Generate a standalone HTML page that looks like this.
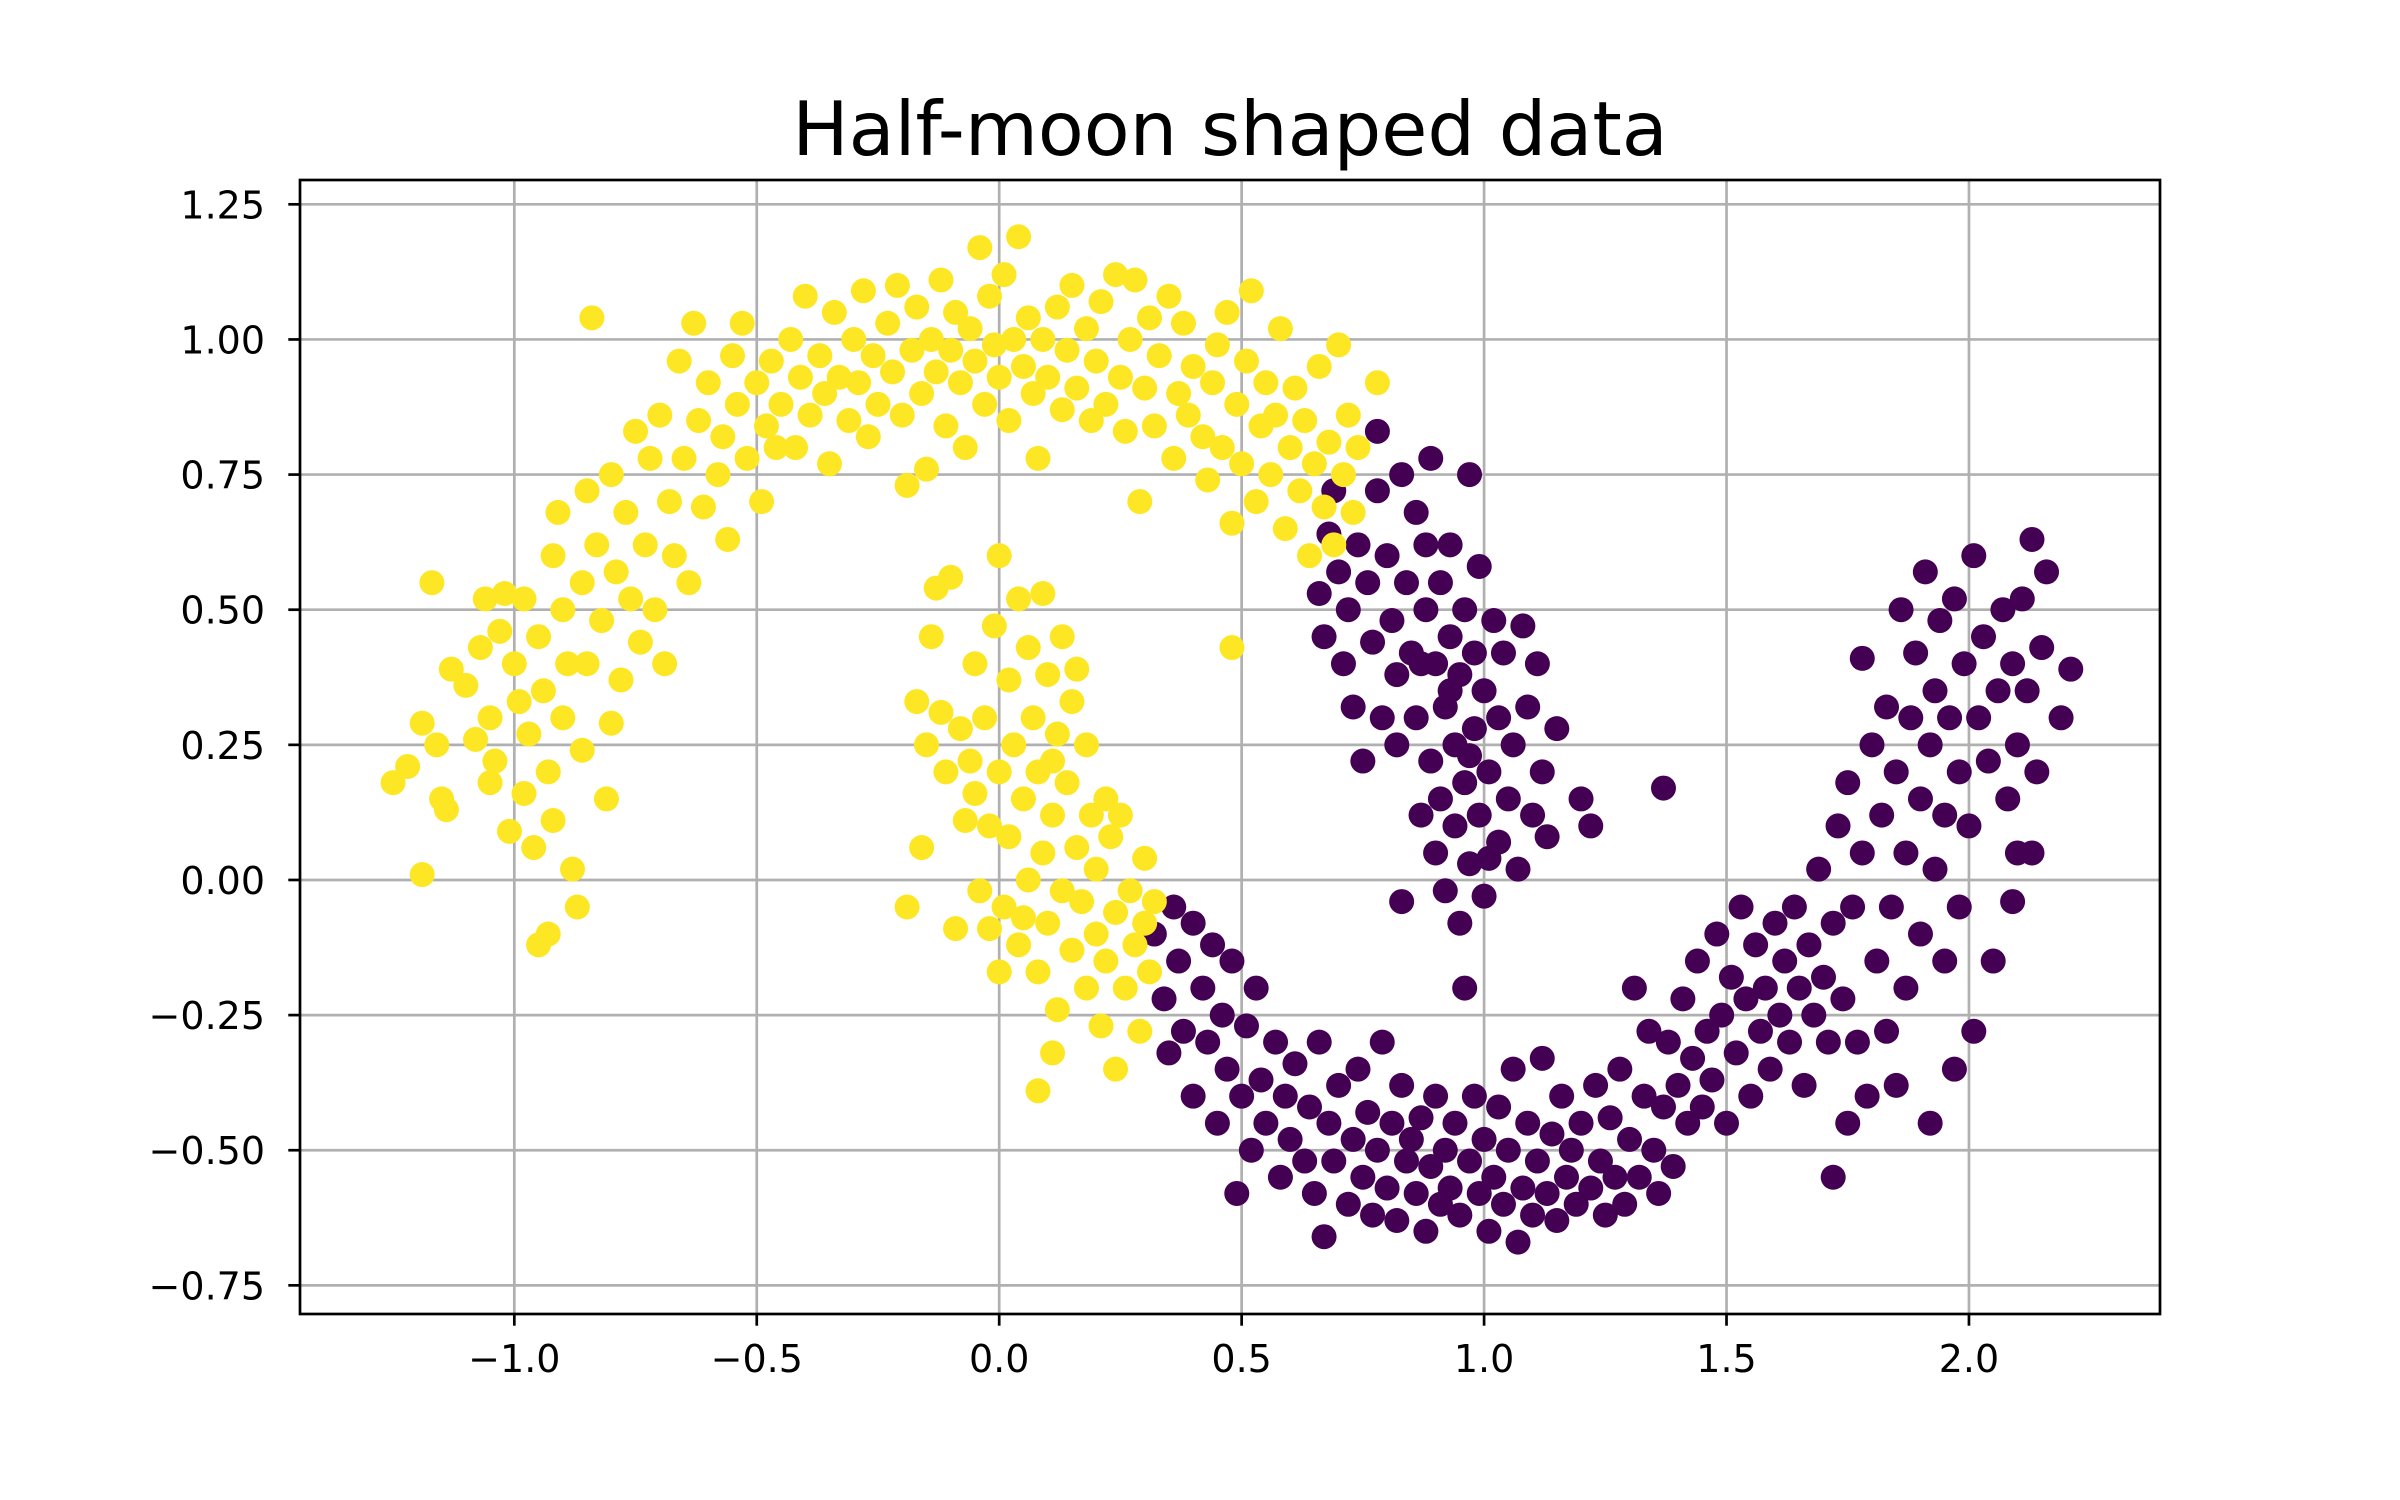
<!DOCTYPE html>
<html><head><meta charset="utf-8"><style>
html,body{margin:0;padding:0;background:#fff}
svg{display:block}
text{font-family:"DejaVu Sans","Liberation Sans",sans-serif;fill:#000}
</style></head><body>
<svg id="chart" width="2400" height="1500" viewBox="0 0 2400 1500" xmlns="http://www.w3.org/2000/svg">
<rect width="2400" height="1500" fill="#fff"/>
<text x="1230" y="155" font-size="75" text-anchor="middle">Half-moon shaped data</text>
<g id="grid"></g>
<g id="pts"></g>
<g id="axes"></g>
</svg>
<script>
const xTicks = [-1.0,-0.5,0.0,0.5,1.0,1.5,2.0];
const xTickLabels = ["−1.0","−0.5","0.0","0.5","1.0","1.5","2.0"];
const yTicks = [-0.75,-0.5,-0.25,0,0.25,0.5,0.75,1.0,1.25];
const yTickLabels = ["−0.75","−0.50","−0.25","0.00","0.25","0.50","0.75","1.00","1.25"];
const yellowX = [-1.25,-1.22,-1.19,-1.19,-1.16,-1.15,-1.14,-1.17,-1.13,-1.1,-1.08,-1.07,-1.06,-1.05,-1.05,-1.04,-1.03,-1.02,-1.01,-1.0,-0.99,-0.98,-0.98,-0.97,-0.96,-0.95,-0.95,-0.93,-0.94,-0.93,-0.92,-0.92,-0.91,-0.9,-0.9,-0.89,-0.88,-0.87,-0.86,-0.86,-0.85,-0.85,-0.84,-0.83,-0.82,-0.81,-0.8,-0.8,-0.79,-0.78,-0.77,-0.76,-0.75,-0.74,-0.73,-0.72,-0.71,-0.7,-0.69,-0.68,-0.67,-0.66,-0.65,-0.64,-0.63,-0.62,-0.61,-0.6,-0.58,-0.57,-0.56,-0.55,-0.54,-0.53,-0.52,-0.5,-0.49,-0.48,-0.47,-0.46,-0.45,-0.43,-0.42,-0.41,-0.4,-0.39,-0.37,-0.36,-0.35,-0.34,-0.33,-0.31,-0.3,-0.29,-0.28,-0.27,-0.26,-0.25,-0.23,-0.22,-0.21,-0.2,-0.19,-0.18,-0.17,-0.16,-0.15,-0.14,-0.13,-0.12,-0.11,-0.1,-0.09,-0.08,-0.07,-0.06,-0.05,-0.04,-0.03,-0.02,-0.01,0.0,0.01,0.02,0.03,0.04,0.05,0.06,0.07,0.08,0.09,0.1,0.12,0.13,0.14,0.15,0.16,0.18,0.19,0.2,0.21,0.22,0.24,0.25,0.26,0.27,0.28,0.29,0.3,0.31,0.32,0.33,0.35,0.36,0.37,0.38,0.39,0.4,0.42,0.43,0.44,0.45,0.46,0.47,0.48,0.48,0.49,0.5,0.51,0.52,0.53,0.54,0.55,0.56,0.57,0.58,0.59,0.6,0.61,0.62,0.63,0.64,0.65,0.66,0.67,0.68,0.69,0.7,0.71,0.72,0.73,0.74,0.78,
-0.19,-0.17,-0.16,-0.15,-0.14,-0.13,-0.12,-0.11,-0.1,-0.09,-0.08,-0.07,-0.06,-0.05,-0.05,-0.04,-0.03,-0.02,-0.01,0.0,0.0,0.01,0.02,0.02,0.03,0.04,0.04,0.05,0.06,0.06,0.07,0.08,0.08,0.09,0.09,0.1,0.1,0.11,0.12,0.12,0.13,0.13,0.14,0.15,0.15,0.16,0.17,0.18,0.18,0.19,0.2,0.2,0.21,0.22,0.22,0.23,0.24,0.24,0.25,0.26,0.27,0.28,0.29,0.3,0.3,0.31,0.32,0.08,0.11,0.05,0.0,-0.02,0.11,0.16];
const yellowY = [0.18,0.21,0.29,0.01,0.25,0.15,0.13,0.55,0.39,0.36,0.26,0.43,0.52,0.3,0.18,0.22,0.46,0.53,0.09,0.4,0.33,0.52,0.16,0.27,0.06,0.45,-0.12,-0.1,0.35,0.2,0.6,0.11,0.68,0.5,0.3,0.4,0.02,-0.05,0.55,0.24,0.72,0.4,1.04,0.62,0.48,0.15,0.75,0.29,0.57,0.37,0.68,0.52,0.83,0.44,0.62,0.78,0.5,0.86,0.4,0.7,0.6,0.96,0.78,0.55,1.03,0.85,0.69,0.92,0.75,0.82,0.63,0.97,0.88,1.03,0.78,0.92,0.7,0.84,0.96,0.8,0.88,1.0,0.8,0.93,1.08,0.86,0.97,0.9,0.77,1.05,0.93,0.85,1.0,0.92,1.09,0.82,0.97,0.88,1.03,0.94,1.1,0.86,0.73,0.98,1.06,0.9,0.76,1.0,0.94,1.11,0.84,0.98,1.05,0.92,0.8,1.02,0.96,1.17,0.88,1.08,0.99,0.93,1.12,0.85,1.0,1.19,0.95,1.04,0.9,0.78,1.0,0.93,1.06,0.87,0.98,1.1,0.91,1.02,0.85,0.96,1.07,0.88,1.12,0.93,0.83,1.0,1.11,0.7,0.91,1.04,0.84,0.97,1.08,0.78,0.9,1.03,0.86,0.95,0.82,0.74,0.92,0.99,0.8,1.05,0.66,0.43,0.88,0.77,0.96,1.09,0.7,0.84,0.92,0.75,0.86,1.02,0.65,0.8,0.91,0.72,0.85,0.6,0.77,0.95,0.69,0.81,0.62,0.99,0.75,0.86,0.68,0.8,0.92,
-0.05,0.33,0.06,0.25,0.45,0.54,0.31,0.2,0.56,-0.09,0.28,0.11,0.22,0.4,0.16,-0.02,0.3,0.1,0.47,0.6,0.2,-0.05,0.37,0.08,0.25,0.52,-0.12,0.15,0.43,0.0,0.3,0.2,-0.17,0.53,0.05,0.38,-0.08,0.12,0.27,-0.24,0.45,-0.02,0.18,-0.13,0.33,0.06,-0.04,0.25,-0.2,0.12,-0.1,0.02,-0.27,0.15,-0.15,0.08,-0.06,-0.35,0.12,-0.2,-0.02,-0.12,-0.28,0.04,-0.08,-0.17,-0.04,-0.39,-0.32,-0.07,-0.17,-0.09,0.22,0.39];
const purpleX = [0.66,0.67,0.68,0.69,0.7,0.71,0.72,0.73,0.74,0.75,0.76,0.77,0.78,0.78,0.79,0.8,0.81,0.82,0.82,0.83,0.83,0.84,0.85,0.86,0.86,0.87,0.88,0.88,0.89,0.89,0.9,0.9,0.91,0.91,0.92,0.92,0.93,0.93,0.94,0.94,0.95,0.95,0.96,0.96,0.97,0.97,0.98,0.98,0.99,0.99,1.0,1.0,1.01,1.02,1.03,1.03,1.04,1.05,1.06,1.07,1.08,1.09,1.1,1.11,1.12,1.13,1.15,1.2,1.22,1.37,0.87,0.93,1.01,0.97,
0.32,0.34,0.35,0.36,0.37,0.38,0.4,0.4,0.42,0.43,0.44,0.45,0.46,0.47,0.48,0.49,0.5,0.51,0.52,0.53,0.54,0.55,0.57,0.58,0.59,0.6,0.61,0.63,0.64,0.65,0.66,0.67,0.68,0.69,0.7,0.72,0.73,0.74,0.75,0.76,0.77,0.78,0.79,0.8,0.81,0.82,0.83,0.84,0.85,0.86,0.87,0.88,0.89,0.9,0.91,0.92,0.93,0.94,0.95,0.96,0.97,0.98,0.99,1.0,1.01,1.02,1.03,1.04,1.05,1.06,1.07,1.08,1.09,1.1,1.11,1.12,1.13,1.14,1.15,1.16,1.17,1.18,1.19,1.2,1.22,1.23,1.24,1.25,1.26,1.27,1.28,1.29,1.3,1.31,1.32,1.33,1.34,1.35,1.36,1.37,1.38,1.39,1.4,1.41,1.42,1.43,1.44,1.45,1.46,1.47,1.48,1.49,1.5,1.51,1.52,1.53,1.54,1.55,1.56,1.57,1.58,1.59,1.6,1.61,1.62,1.63,1.64,1.65,1.66,1.67,1.68,1.69,1.7,1.71,1.72,1.72,1.73,1.74,1.75,1.76,1.77,1.78,1.78,1.79,1.8,1.81,1.82,1.83,1.84,1.85,1.85,1.86,1.87,1.87,1.88,1.89,1.9,1.9,1.91,1.92,1.93,1.93,1.94,1.95,1.95,1.96,1.97,1.98,1.98,1.99,2.0,2.01,2.01,2.02,2.03,2.04,2.05,2.06,2.07,2.08,2.09,2.1,2.1,2.11,2.12,2.13,2.14,2.15,2.16,2.19,2.21,2.13,2.09,1.97,1.92,1.83,1.75];
const purpleY = [0.53,0.45,0.64,0.72,0.57,0.4,0.5,0.32,0.62,0.22,0.55,0.44,0.72,0.83,0.3,0.6,0.48,0.25,0.38,0.75,-0.04,0.55,0.42,0.68,0.3,0.12,0.5,0.62,0.22,0.78,0.4,0.05,0.55,0.15,0.32,-0.02,0.62,0.45,0.25,0.1,0.38,-0.08,0.5,0.18,0.03,0.75,0.42,0.28,0.12,0.58,0.35,-0.03,0.2,0.48,0.07,0.3,0.42,0.15,0.25,0.02,0.47,0.32,0.12,0.4,0.2,0.08,0.28,0.15,0.1,0.17,0.4,0.35,0.04,0.23,
-0.1,-0.22,-0.32,-0.05,-0.15,-0.28,-0.4,-0.08,-0.2,-0.3,-0.12,-0.45,-0.25,-0.35,-0.15,-0.58,-0.4,-0.27,-0.5,-0.2,-0.37,-0.45,-0.3,-0.55,-0.4,-0.48,-0.34,-0.52,-0.42,-0.58,-0.3,-0.66,-0.45,-0.52,-0.38,-0.6,-0.48,-0.35,-0.55,-0.43,-0.62,-0.5,-0.3,-0.57,-0.45,-0.63,-0.38,-0.52,-0.48,-0.58,-0.44,-0.65,-0.53,-0.4,-0.6,-0.5,-0.57,-0.45,-0.62,-0.2,-0.52,-0.4,-0.58,-0.48,-0.65,-0.55,-0.42,-0.6,-0.5,-0.35,-0.67,-0.57,-0.45,-0.62,-0.52,-0.33,-0.58,-0.47,-0.63,-0.4,-0.55,-0.5,-0.6,-0.45,-0.57,-0.38,-0.52,-0.62,-0.44,-0.55,-0.35,-0.6,-0.48,-0.2,-0.55,-0.4,-0.28,-0.5,-0.58,-0.42,-0.3,-0.53,-0.38,-0.22,-0.45,-0.33,-0.15,-0.42,-0.28,-0.37,-0.1,-0.25,-0.45,-0.18,-0.32,-0.05,-0.22,-0.4,-0.12,-0.28,-0.2,-0.35,-0.08,-0.25,-0.15,-0.3,-0.05,-0.2,-0.38,-0.12,-0.25,0.02,-0.18,-0.3,-0.55,-0.08,0.1,-0.22,0.18,-0.05,-0.3,0.05,0.41,-0.4,0.25,-0.15,0.12,0.32,-0.05,-0.38,0.2,0.5,0.05,-0.2,0.3,0.42,0.15,-0.1,0.57,0.25,0.02,0.35,0.48,-0.15,0.12,0.3,0.52,0.2,-0.05,0.4,0.1,0.6,-0.28,0.3,0.45,0.22,-0.15,0.35,0.5,0.15,0.4,0.25,0.05,0.52,0.35,0.63,0.2,0.43,0.57,0.3,0.39,0.05,-0.04,-0.35,-0.45,-0.28,-0.45];

const L=300,R=2160,T=180,B=1314;
const xMin=-1.442,xMax=2.394,yMin=-0.803,yMax=1.295;
function sx(v){return L+(v-xMin)/(xMax-xMin)*(R-L);}
function sy(v){return B-(v-yMin)/(yMax-yMin)*(B-T);}
const NS="http://www.w3.org/2000/svg";
function mk(tag,attrs,parent){const e=document.createElementNS(NS,tag);for(const k in attrs)e.setAttribute(k,attrs[k]);parent.appendChild(e);return e;}
const grid=document.getElementById('grid'),pts=document.getElementById('pts'),axes=document.getElementById('axes');
xTicks.forEach((v,i)=>{
  const g=mk('line',{x1:sx(v),x2:sx(v),y1:T,y2:B,stroke:'#b0b0b0','stroke-width':2.7},grid);
  
  
  const t=mk('line',{x1:sx(v),x2:sx(v),y1:B,y2:B+11.7,stroke:'#000','stroke-width':2.7},axes);
  
  
  const lb=mk('text',{x:sx(v),y:B+58,'font-size':38,'text-anchor':'middle'},axes);
  lb.textContent=xTickLabels[i];
  
  
});
yTicks.forEach((v,i)=>{
  const g=mk('line',{x1:L,x2:R,y1:sy(v),y2:sy(v),stroke:'#b0b0b0','stroke-width':2.7},grid);
  
  
  const t=mk('line',{x1:L-11.7,x2:L,y1:sy(v),y2:sy(v),stroke:'#000','stroke-width':2.7},axes);
  
  
  const lb=mk('text',{x:L-35,y:sy(v)+14,'font-size':38,'text-anchor':'end'},axes);
  lb.textContent=yTickLabels[i];
  
  
});
function drawSeries(xs,ys,color,name){
  for(let i=0;i<Math.min(xs.length,ys.length);i++){
    const c=mk('circle',{cx:sx(xs[i]),cy:sy(ys[i]),r:12.5,fill:color},pts);
    
    
  }
}
drawSeries(purpleX,purpleY,'#440154','purple-point');
drawSeries(yellowX,yellowY,'#fde725','yellow-point');
const fr=mk('rect',{x:L,y:T,width:R-L,height:B-T,fill:'none',stroke:'#000','stroke-width':2.7},axes);


</script>
</body></html>
